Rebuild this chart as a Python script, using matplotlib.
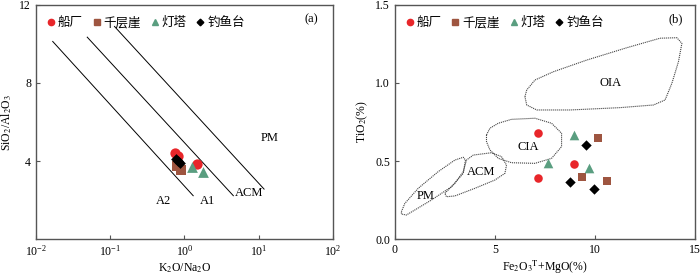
import matplotlib
matplotlib.use('Agg')

import numpy as np
import matplotlib.pyplot as plt
from matplotlib.lines import Line2D

plt.rcParams['font.family'] = ['Liberation Serif', 'Noto Sans CJK SC', 'DejaVu Sans']
plt.rcParams['mathtext.fontset'] = 'stix'

# 样品数据 (a): K2O/Na2O vs SiO2/Al2O3
a_cc_x = [0.74, 0.82, 1.49]
a_cc_y = [4.40, 4.25, 3.85]
a_qcy_x = [0.80, 0.90]
a_qcy_y = [3.75, 3.52]
a_dt_x = [1.27, 1.79]
a_dt_y = [3.67, 3.45]
a_dyt_x = [0.76, 0.82, 0.87]
a_dyt_y = [4.10, 4.00, 3.92]

# 判别线 (a)
line_a2_x = [0.0168, 1.31]
line_a2_y = [10.13, 2.22]
line_a1_x = [0.049, 4.55]
line_a1_y = [10.35, 2.22]
line_acm_x = [0.114, 11.8]
line_acm_y = [10.9, 2.56]

# 样品数据 (b): Fe2O3T+MgO vs TiO2
b_cc_x = [7.17, 7.17, 8.97]
b_cc_y = [0.678, 0.393, 0.479]
b_qcy_x = [10.17, 9.37, 10.58]
b_qcy_y = [0.645, 0.400, 0.372]
b_dt_x = [8.97, 7.63, 9.70]
b_dt_y = [0.665, 0.489, 0.453]
b_dyt_x = [9.53, 8.75, 9.97]
b_dyt_y = [0.603, 0.367, 0.320]

# 构造背景区域 (b)
oia_x = [6.5, 6.59, 7.0, 7.92, 9.59, 11.59, 13.25, 14.09, 14.34, 14.17, 13.84, 13.5, 12.92, 11.25, 8.75, 7.09, 6.59]
oia_y = [0.912, 0.955, 1.019, 1.072, 1.147, 1.226, 1.287, 1.29, 1.254, 1.137, 0.998, 0.891, 0.859, 0.842, 0.827, 0.827, 0.859]
cia_x = [4.58, 4.75, 5.17, 5.83, 7.0, 7.83, 8.33, 8.33, 7.83, 7.0, 5.83, 5.17, 4.75, 4.58]
cia_y = [0.667, 0.71, 0.742, 0.767, 0.774, 0.742, 0.678, 0.592, 0.517, 0.485, 0.489, 0.517, 0.571, 0.624]
acm_x = [2.5, 3.0, 3.42, 3.58, 3.92, 4.83, 5.33, 5.58, 5.5, 5.0, 4.0, 3.0, 2.58]
acm_y = [0.293, 0.357, 0.432, 0.506, 0.538, 0.553, 0.528, 0.474, 0.421, 0.378, 0.325, 0.276, 0.271]
pm_x = [0.33, 0.5, 1.17, 2.17, 3.0, 3.42, 3.53, 3.42, 2.83, 1.83, 1.0, 0.58, 0.33]
pm_y = [0.175, 0.228, 0.325, 0.432, 0.506, 0.524, 0.506, 0.421, 0.335, 0.25, 0.186, 0.154, 0.16]

names = ['船厂', '千层崖', '灯塔', '钓鱼台']
colors = ['#e8262a', '#9e5540', '#5a9e80', 'black']
markers = ['o', 's', '^', 'D']

fig = plt.figure(figsize=(7, 2.76), dpi=100)
ax1 = fig.add_axes([0.0514, 0.134, 0.4243, 0.848])
ax2 = fig.add_axes([0.564, 0.134, 0.429, 0.848])

def style_axis(ax):
    for s in ax.spines.values():
        s.set_color('#555555')
        s.set_linewidth(1.0)
    ax.tick_params(direction='in', labelsize=8.5, length=3, width=0.8, color='#555555')
    ax.tick_params(which='minor', length=0)

def add_legend(ax, ms):
    handles = [Line2D([], [], marker=m, color=c, linestyle='none',
                      markersize=ms * (0.75 if m == 'D' else 1.0))
               for m, c in zip(markers, colors)]
    ax.legend(handles, names, ncol=4, loc='upper left', frameon=False,
              handletextpad=0.05, columnspacing=0.6, handlelength=1.0,
              borderaxespad=0.3, prop={'family': ['Noto Sans CJK SC'], 'size': 9},
              bbox_to_anchor=(0.0, 0.99))

# (a)
for lx, ly in [(line_a2_x, line_a2_y), (line_a1_x, line_a1_y), (line_acm_x, line_acm_y)]:
    ax1.plot(lx, ly, color='black', linewidth=0.7)
sets_a = [(a_cc_x, a_cc_y), (a_qcy_x, a_qcy_y), (a_dt_x, a_dt_y), (a_dyt_x, a_dyt_y)]
sizes_a = [55, 50, 60, 30]
for (x, y), c, m, s in zip(sets_a, colors, markers, sizes_a):
    ax1.scatter(x, y, c=c, marker=m, s=s, linewidths=0, zorder=3)
ax1.set_xscale('log')
ax1.set_xlim(1e-2, 1e2)
ax1.set_ylim(0, 12)
ax1.set_yticks([4, 8, 12])
ax1.set_xticks([1e-2, 1e-1, 1e0, 1e1, 1e2])
ax1.set_xlabel('K$_2$O/Na$_2$O', fontsize=8.5, labelpad=2)
ax1.set_ylabel('SiO$_2$/Al$_2$O$_3$', fontsize=8.5, labelpad=4)
ax1.text(0.52, 1.95, 'A2', fontsize=9, ha='center', va='center')
ax1.text(2.04, 1.95, 'A1', fontsize=9, ha='center', va='center')
ax1.text(7.4, 2.36, 'ACM', fontsize=9, ha='center', va='center')
ax1.text(14, 5.2, 'PM', fontsize=9, ha='center', va='center')
ax1.text(0.95, 0.94, '(a)', transform=ax1.transAxes, fontsize=9, ha='right', va='center')
style_axis(ax1)
add_legend(ax1, 4.5)

# (b)
for ex, ey in [(oia_x, oia_y), (cia_x, cia_y), (acm_x, acm_y), (pm_x, pm_y)]:
    ax2.fill(ex, ey, facecolor='none', edgecolor='#444444', linestyle=(0, (1, 0.8)), linewidth=0.8)
sets_b = [(b_cc_x, b_cc_y), (b_qcy_x, b_qcy_y), (b_dt_x, b_dt_y), (b_dyt_x, b_dyt_y)]
sizes_b = [38, 36, 48, 28]
for (x, y), c, m, s in zip(sets_b, colors, markers, sizes_b):
    ax2.scatter(x, y, c=c, marker=m, s=s, linewidths=0, zorder=3)
ax2.set_xlim(0, 15)
ax2.set_ylim(0, 1.5)
ax2.set_xticks([0, 5, 10, 15])
ax2.set_yticks([0.0, 0.5, 1.0, 1.5])
ax2.set_yticklabels(['0.0', '0.5', '1.0', '1.5'])
ax2.set_xlabel('Fe$_2$O$_3$$^{\\mathrm{T}}$+MgO(%)', fontsize=8.5, labelpad=2)
ax2.set_ylabel('TiO$_2$(%)', fontsize=8.5, labelpad=4)
ax2.text(10.8, 1.0, 'OIA', fontsize=9, ha='center', va='center')
ax2.text(6.67, 0.588, 'CIA', fontsize=9, ha='center', va='center')
ax2.text(4.3, 0.432, 'ACM', fontsize=9, ha='center', va='center')
ax2.text(1.53, 0.276, 'PM', fontsize=9, ha='center', va='center')
ax2.text(0.96, 0.94, '(b)', transform=ax2.transAxes, fontsize=9, ha='right', va='center')
style_axis(ax2)
add_legend(ax2, 4.5)

fig.savefig('out.png', dpi=100)
